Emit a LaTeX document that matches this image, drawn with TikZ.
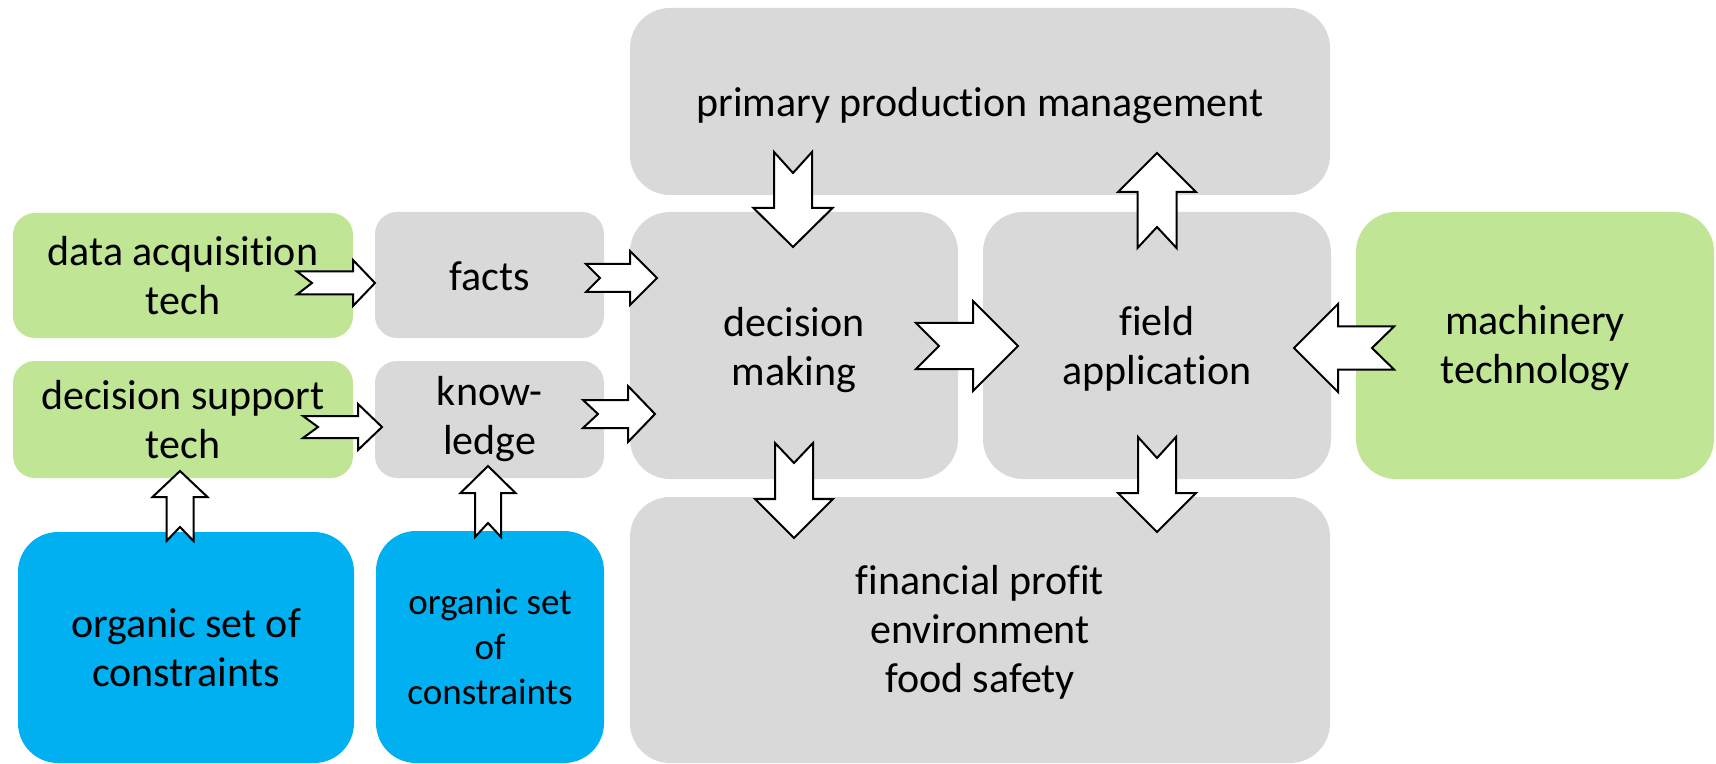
\documentclass[tikz,border=0pt]{standalone}
\usepackage{fontspec}
\setmainfont{Carlito}[Ligatures=NoCommon]
\definecolor{lgreen}{RGB}{192,229,148}
\definecolor{lgray}{RGB}{217,217,217}
\definecolor{lblue}{RGB}{0,176,240}
\tikzset{
  box/.style={rectangle, inner sep=0pt, align=center, text=black,
    font=\fontsize{21}{24.5}\selectfont},
  sz/.style 2 args={minimum width={#1*0.5pt}, minimum height={#2*0.5pt}},
  bigr/.style={rounded corners=20pt},
  smallr/.style={rounded corners=11pt},
  lowtext/.style={text height=#1},
  graybox/.style={box, fill=lgray},
  greenbox/.style={box, fill=lgreen},
  bluebox/.style={box, fill=lblue},
  barrowst/.style={draw=black, fill=white, line width=1pt, line join=miter},
}
\newcommand{\notchedarrow}[8]{%
  \begin{scope}[shift={(#1,#2)},rotate=#3]
    \filldraw[barrowst] (0,#5) -- ({#4-#7},#5) -- ({#4-#7},#6) -- (#4,0)
      -- ({#4-#7},-#6) -- ({#4-#7},-#5) -- (0,-#5) -- (#8,0) -- cycle;
  \end{scope}}
\begin{document}
\begin{tikzpicture}[x=0.5pt,y=-0.5pt]
\useasboundingbox (0,0) rectangle (1716,764);
% boxes
\node[graybox, bigr, sz={700}{187}, lowtext=18.5pt] (prim) at (980,101.5) {primary production management};
\node[greenbox, smallr, sz={340}{125}] (da) at (183,275.5) {data acquisition\\tech};
\node[graybox, smallr, sz={229}{126}, lowtext=16pt] (facts) at (489.5,275) {facts};
\node[graybox, bigr, sz={328}{267}, lowtext=44pt] (dm) at (794,345.5) {decision\\making};
\node[graybox, bigr, sz={348}{267}, lowtext=42pt] (fa) at (1157,345.5) {field\\application};
\node[greenbox, bigr, sz={358}{267}, lowtext=42pt] (mt) at (1535,345.5) {machinery\\technology};
\node[greenbox, smallr, sz={340}{117}] (ds) at (183,419.5) {decision support\\tech};
\node[graybox, smallr, sz={229}{117}] (kn) at (489.5,419.5) {know-\\ledge};
\node[bluebox, bigr, sz={336}{231}] (org1) at (186,647.5) {organic set of\\constraints};
\node[bluebox, bigr, sz={228}{232}, font=\fontsize{18.5}{22.5}\selectfont] (org2) at (490,647) {organic set\\of\\constraints};
\node[graybox, bigr, sz={700}{266}, lowtext=65.5pt] (fin) at (980,630) {financial profit\\environment\\food safety};
% notched block arrows: tail x, tail y, angle, length, shaft half, head half, head length, notch
\notchedarrow{297}{283}{0}{78}{11.5}{23}{22}{15}
\notchedarrow{586}{278}{0}{71}{14}{27}{27}{14}
\notchedarrow{303}{427}{0}{79}{11}{23}{24}{15}
\notchedarrow{583}{414}{0}{72}{14}{28}{27}{15}
\notchedarrow{793}{152}{-90}{95}{19}{39.5}{39}{21}
\notchedarrow{1157}{248}{90}{95}{19.5}{39}{39}{21}
\notchedarrow{916}{346}{0}{102}{23}{45}{45}{23}
\notchedarrow{794}{443}{-90}{95}{19}{39}{39}{20}
\notchedarrow{1157}{437}{-90}{95}{19}{39}{39}{21}
\notchedarrow{180}{541}{90}{70}{13.5}{27.5}{26}{14}
\notchedarrow{488}{537}{90}{71}{13}{27.5}{27}{14}
\notchedarrow{1394}{348}{180}{100}{21.5}{44}{44}{22}
\end{tikzpicture}
\end{document}
